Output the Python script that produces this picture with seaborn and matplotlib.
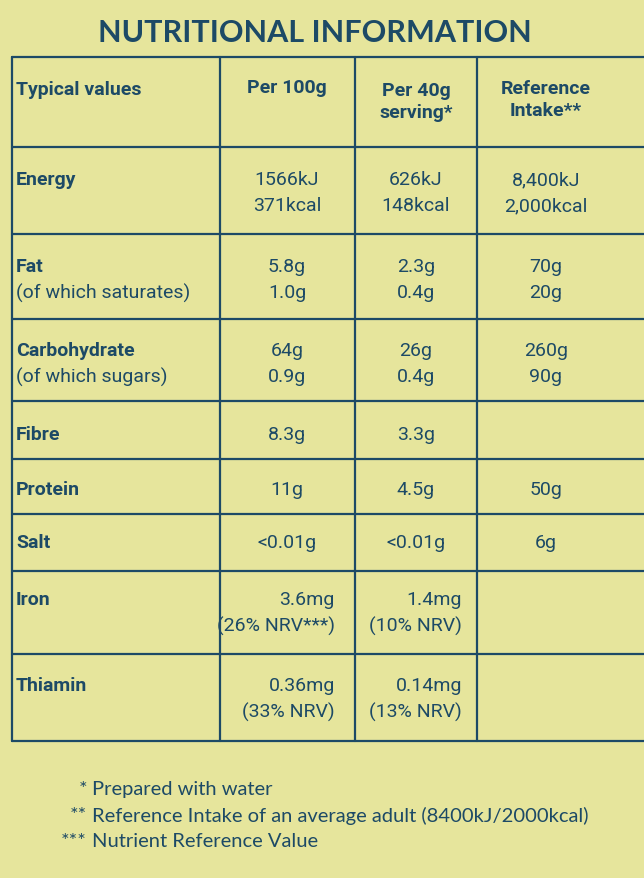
import matplotlib
matplotlib.use("Agg")
import matplotlib.pyplot as plt
import seaborn as sns

sns.set_theme(style="white")
plt.rcParams['font.family'] = ['Roboto', 'DejaVu Sans']

title = "NUTRITIONAL INFORMATION"
headers = ["Typical values", "Per 100g", "Per 40g\nserving*", "Reference\nIntake**"]
nutrients = [("Energy", None), ("Fat", "(of which saturates)"), ("Carbohydrate", "(of which sugars)"),
             ("Fibre", None), ("Protein", None), ("Salt", None), ("Iron", None), ("Thiamin", None)]
per100 = [["1566kJ", "371kcal"], ["5.8g", "1.0g"], ["64g", "0.9g"], ["8.3g"], ["11g"], ["<0.01g"],
          ["3.6mg", "(26% NRV***)"], ["0.36mg", "(33% NRV)"]]
per40 = [["626kJ", "148kcal"], ["2.3g", "0.4g"], ["26g", "0.4g"], ["3.3g"], ["4.5g"], ["<0.01g"],
         ["1.4mg", "(10% NRV)"], ["0.14mg", "(13% NRV)"]]
refint = [["8,400kJ", "2,000kcal"], ["70g", "20g"], ["260g", "90g"], [], ["50g"], ["6g"], [], []]
footnotes = [("*", "Prepared with water"), ("**", "Reference Intake of an average adult (8400kJ/2000kcal)"),
             ("***", "Nutrient Reference Value")]

bg = "#e6e59c"
ink = "#1d4a66"
fig = plt.figure(figsize=(6.44, 8.79), dpi=100, facecolor=bg)
ax = fig.add_axes([0, 0, 1, 1])
ax.set_facecolor(bg)
ax.set_xlim(0, 644); ax.set_ylim(879, 0); ax.axis("off")

ax.text(315, 33, title, ha="center", va="center", fontsize=22, color=ink, fontweight="bold",
        family=['Lato', 'DejaVu Sans'])

hlines = [58, 148, 235, 320, 402, 460, 515, 572, 655, 742]
vx = [12, 220, 355, 477, 644]
for y in hlines:
    ax.plot([12, 644], [y, y], color=ink, lw=1.6)
for x in vx[:-1]:
    ax.plot([x, x], [58, 742], color=ink, lw=1.6)

fs = 14
ax.text(16, 90, headers[0], ha="left", va="center", fontsize=fs, color=ink, fontweight="bold")
ax.text(287, 88, headers[1], ha="center", va="center", fontsize=fs, color=ink, fontweight="bold")
ax.text(416, 102, headers[2], ha="center", va="center", fontsize=fs, color=ink, fontweight="bold", linespacing=1.35)
ax.text(546, 100, headers[3], ha="center", va="center", fontsize=fs, color=ink, fontweight="bold", linespacing=1.35)

row_tops = [180, 267, 351, 435, 490, 543, 600, 686]
lh = 26
for i, (name, sub) in enumerate(nutrients):
    y0 = row_tops[i]
    ax.text(16, y0, name, ha="left", va="center", fontsize=fs, color=ink, fontweight="bold")
    if sub:
        ax.text(16, y0 + lh, sub, ha="left", va="center", fontsize=fs, color=ink)
    right = i >= 6
    for col, cx, rx in ((per100, 287, 335), (per40, 416, 462), (refint, 546, 546)):
        for j, v in enumerate(col[i]):
            if right:
                ax.text(rx, y0 + j * lh, v, ha="right", va="center", fontsize=fs, color=ink)
            else:
                ax.text(cx, y0 + j * lh, v, ha="center", va="center", fontsize=fs, color=ink)

for k, (st, txt) in enumerate(footnotes):
    y = 790 + k * 26
    ax.text(87, y, st, ha="right", va="center", fontsize=14.5, color=ink, family=['Lato', 'DejaVu Sans'])
    ax.text(92, y, txt, ha="left", va="center", fontsize=14.5, color=ink, family=['Lato', 'DejaVu Sans'])

fig.savefig("out.png", dpi=100, facecolor=bg)
